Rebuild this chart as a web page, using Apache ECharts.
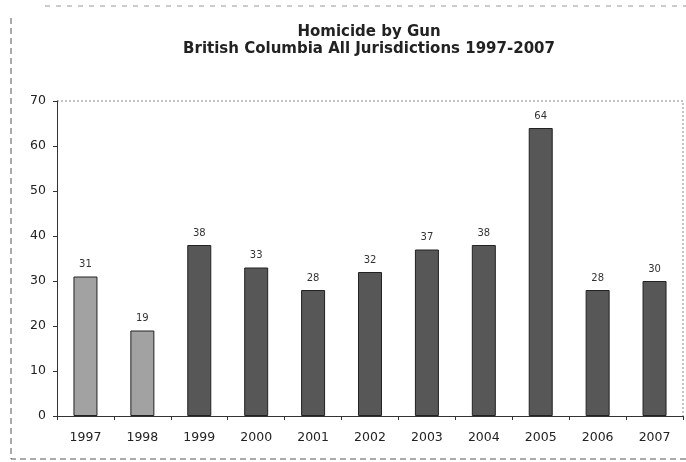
<!DOCTYPE html>
<html>
<head>
<meta charset="utf-8">
<script src="https://cdn.jsdelivr.net/npm/echarts@6/dist/echarts.min.js"></script>
<style>
  html, body { margin: 0; padding: 0; background: #fff; }
  #chart { width: 686px; height: 462px; }
</style>
</head>
<body>
<div id="chart"></div>
<script>
// data
const years = ["1997", "1998", "1999", "2000", "2001", "2002", "2003", "2004", "2005", "2006", "2007"];
const homicides = [31, 19, 38, 33, 28, 32, 37, 38, 64, 28, 30];
const lightYears = ["1997", "1998"];

const myChart = echarts.init(document.getElementById("chart"));

const barData = homicides.map((v, i) => ({
  value: v,
  itemStyle: {
    color: lightYears.includes(years[i]) ? "#a2a2a2" : "#575757"
  }
}));

let option = {
  animation: false,
  backgroundColor: "#fff",
  textStyle: { fontFamily: "DejaVu Sans, sans-serif" },
  title: {
    text: "Homicide by Gun\nBritish Columbia All Jurisdictions 1997-2007",
    left: 364,
    textAlign: "center",
    top: 19,
    textStyle: {
      fontFamily: "DejaVu Sans",
      fontSize: 15,
      fontWeight: "bold",
      color: "#222",
      lineHeight: 17
    }
  },
  grid: { left: 57, right: 3, top: 101, bottom: 46 },
  xAxis: {
    type: "category",
    data: years,
    axisLine: { lineStyle: { color: "#333", width: 1 } },
    axisTick: { show: true, alignWithLabel: false, length: 4, lineStyle: { color: "#333" } },
    axisLabel: { color: "#222", fontSize: 12.5, margin: 15 }
  },
  yAxis: {
    type: "value",
    min: 0,
    max: 70,
    interval: 10,
    axisLine: { show: true, lineStyle: { color: "#333" } },
    axisTick: { show: true, length: 4, lineStyle: { color: "#333" } },
    axisLabel: { color: "#222", fontSize: 12.5, margin: 11 },
    splitLine: { show: false }
  },
  graphic: [
    // dashed outer frame of the scan
    {
      type: "polyline",
      shape: { points: [[11, 18], [11, 459], [686, 459]] },
      style: { stroke: "#555", lineWidth: 1, lineDash: [6, 4], fill: null }
    },
    {
      type: "line",
      shape: { x1: 45, y1: 6, x2: 686, y2: 6 },
      style: { stroke: "#999", lineWidth: 1, lineDash: [5, 6] }
    },
    // dotted top/right edges of the plot area
    {
      type: "polyline",
      shape: { points: [[57, 101], [683, 101], [683, 416]] },
      style: { stroke: "#888", lineWidth: 1, lineDash: [2, 2], fill: null }
    }
  ],
  series: [{
    type: "bar",
    data: barData,
    barWidth: 24,
    itemStyle: { borderColor: "#222", borderWidth: 1 },
    label: {
      show: true,
      position: "top",
      distance: 7,
      fontSize: 10,
      color: "#333"
    }
  }]
};
myChart.setOption(option);
</script>
</body>
</html>
